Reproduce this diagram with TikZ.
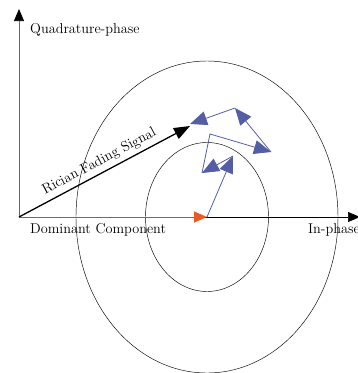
\documentclass[tikz,border=0pt]{standalone}
\usetikzlibrary{arrows.meta}
\definecolor{scatblue}{RGB}{84,94,164}
\definecolor{domorange}{RGB}{238,88,34}
\tikzset{
  lbl/.style={inner sep=0pt, font=\fontsize{14.3}{17}\selectfont},
  axis/.style={line width=0.7bp, -{Triangle[length=12bp,width=10bp,color=black]}},
  ring/.style={line width=0.45bp},
  scat/.style={scatblue, line width=0.8bp, -{Triangle[length=17bp,width=14bp]}},
}
\begin{document}
\begin{tikzpicture}[x=1bp,y=-1bp]
    \useasboundingbox (0,0) rectangle (358,373);
    % points of the phasor diagram
    \coordinate (O) at (19,217);
    \coordinate (Qtip) at (19,9);
    \coordinate (Itip) at (360,217);
    \coordinate (D) at (207,217);
    \coordinate (R) at (190,126);
    \coordinate (s1) at (233,156);
    \coordinate (s2) at (202,173);
    \coordinate (s3) at (210,134);
    \coordinate (s4) at (271,152);
    \coordinate (s5) at (235,108);
    \coordinate (s6) at (190,124);
    % rings round the dominant component
    \draw[ring] (D) ellipse [x radius=131, y radius=156];
    \draw[ring] (D) ellipse [x radius=61.5, y radius=74.5];
    % axes
    \draw[axis, gray!80!black] (O) -- (Qtip);
    \draw[axis] (O) -- (Itip);
    \node[lbl, anchor=base west] (qlab) at (30,33) {Quadrature-phase};
    \node[lbl, anchor=base west] (ilab) at (308,233) {In-phase};
    % dominant and resulting signal
    \draw[domorange!85!black, line width=0.8bp, -{Triangle[length=13bp,width=11bp,color=domorange]}] (O) -- (D);
    \node[lbl, anchor=base west] (dlab) at (30,233) {Dominant Component};
    \draw[line width=1.3bp, -{Triangle[length=16bp,width=12bp]}] (O) -- (R)
        node[lbl, midway, sloped, above=4bp] (rlab) {Rician Fading Signal};
    % scattered components
    \draw[scat] (D) -- (s1);
    \draw[scat] (s1) -- (s2);
    \draw[scat] (s2) -- (s3) -- (s4);
    \draw[scat] (s4) -- (s5);
    \draw[scat] (s5) -- (s6);
\end{tikzpicture}
\end{document}
